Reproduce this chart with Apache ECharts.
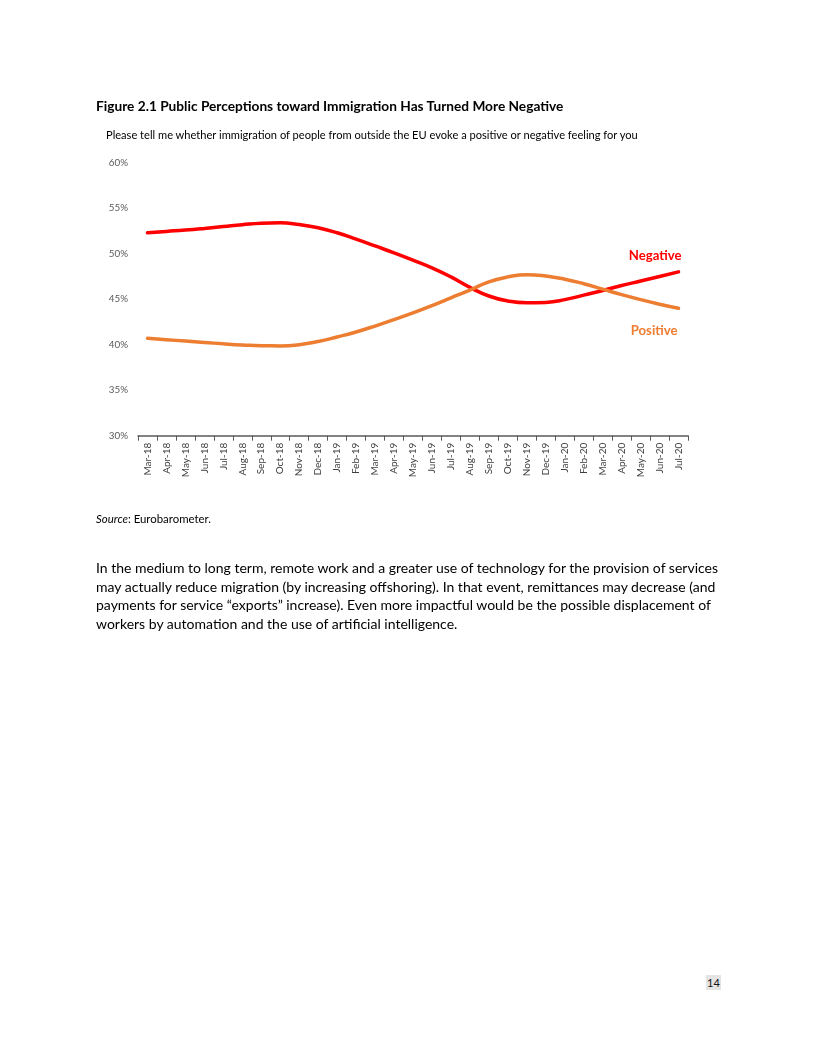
<!DOCTYPE html>
<html>
<head>
<meta charset="utf-8">
<script src="https://cdn.jsdelivr.net/npm/echarts@6/dist/echarts.min.js"></script>
<style>
  html, body { margin:0; padding:0; background:#fff; }
  body { width:816px; height:1056px; position:relative; font-family:Lato, "Open Sans", sans-serif; color:#000; }
  #chart { position:absolute; left:0; top:0; width:816px; height:560px; }
  .t { position:absolute; white-space:nowrap; }
  #title { left:96px; top:97px; font-size:13.7px; font-weight:bold; }
  #sub { left:106px; top:128px; font-size:11.1px; }
  #src { left:96px; top:512px; font-size:11.4px; }
  #para { left:96px; top:559px; font-size:14px; line-height:18.6px; }
  #pg { left:706px; top:975px; width:15px; height:15px; background:#e4e4e4; font-size:11px; line-height:15px; text-align:center; color:#111; }
</style>
</head>
<body>
<div id="chart"></div>
<div class="t" id="title">Figure 2.1 Public Perceptions toward Immigration Has Turned More Negative</div>
<div class="t" id="sub">Please tell me whether immigration of people from outside the EU evoke a positive or negative feeling for you</div>
<div class="t" id="src"><i>Source</i>: Eurobarometer.</div>
<div class="t" id="para">In the medium to long term, remote work and a greater use of technology for the provision of services<br>may actually reduce migration (by increasing offshoring). In that event, remittances may decrease (and<br>payments for service “exports” increase). Even more impactful would be the possible displacement of<br>workers by automation and the use of artificial intelligence.</div>
<div class="t" id="pg">14</div>
<script>
var categories = ["Mar-18","Apr-18","May-18","Jun-18","Jul-18","Aug-18","Sep-18","Oct-18","Nov-18","Dec-18",
  "Jan-19","Feb-19","Mar-19","Apr-19","May-19","Jun-19","Jul-19","Aug-19","Sep-19","Oct-19","Nov-19","Dec-19",
  "Jan-20","Feb-20","Mar-20","Apr-20","May-20","Jun-20","Jul-20"];
var negative = [52.3,52.45,52.6,52.78,52.98,53.18,53.35,53.4,53.2,52.85,52.3,51.6,50.85,50.1,49.3,48.45,47.45,46.3,45.35,44.8,44.6,44.65,44.95,45.45,45.95,46.5,47.0,47.5,48.0];
var positive = [40.7,40.55,40.4,40.25,40.1,39.97,39.88,39.87,40.0,40.35,40.85,41.4,42.05,42.75,43.5,44.3,45.15,46.0,46.9,47.45,47.7,47.55,47.2,46.7,46.1,45.5,44.95,44.45,44.0];
var yTicks = {min:30, max:60, interval:5};

var chart = echarts.init(document.getElementById('chart'), null, {renderer:'canvas'});
var font = 'Lato, "Open Sans", sans-serif';
chart.setOption({
  animation:false,
  textStyle:{fontFamily:font},
  grid:{left:138, right:128, top:162.7, height:273, containLabel:false},
  xAxis:{
    type:'category', data:categories, boundaryGap:true,
    axisLine:{lineStyle:{color:'#595959', width:1.5}},
    axisTick:{show:true, length:5, lineStyle:{color:'#595959', width:1}},
    axisLabel:{interval:0, rotate:90, fontSize:10, color:'#404040', margin:7, fontFamily:font}
  },
  yAxis:{
    type:'value', min:yTicks.min, max:yTicks.max, interval:yTicks.interval,
    axisLine:{show:false}, axisTick:{show:false}, splitLine:{show:false},
    axisLabel:{formatter:'{value}%', fontSize:9.8, color:'#595959', margin:10, fontFamily:font}
  },
  series:[
    {name:'Negative', type:'line', data:negative, smooth:0.5, symbol:'none',
     lineStyle:{color:'#FF0000', width:3.5, cap:'round'},
     endLabel:{show:true, formatter:'Negative', color:'#FF0000', fontWeight:'bold', fontSize:13.2,
       fontFamily:font, align:'right', verticalAlign:'middle', offset:[-5,-16]}},
    {name:'Positive', type:'line', data:positive, smooth:0.5, symbol:'none',
     lineStyle:{color:'#ED7D31', width:3.5, cap:'round'},
     endLabel:{show:true, formatter:'Positive', color:'#ED7D31', fontWeight:'bold', fontSize:13.2,
       fontFamily:font, align:'right', verticalAlign:'middle', offset:[-9,22]}}
  ]
});
</script>
</body>
</html>
